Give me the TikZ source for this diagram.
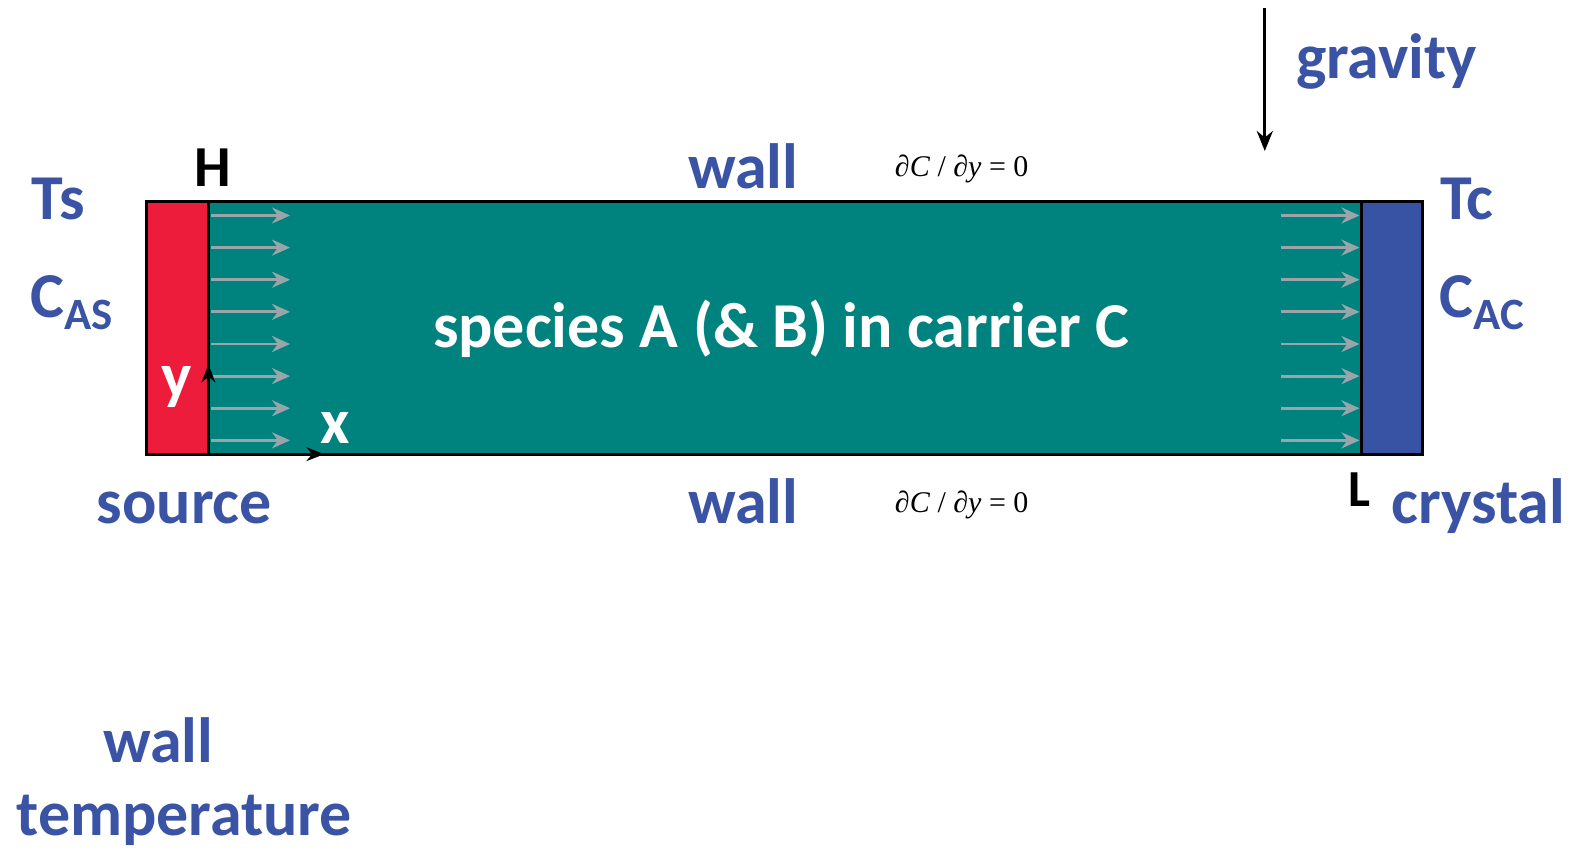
\documentclass[tikz,border=0pt]{standalone}
\usepackage{fontspec}
\setsansfont{Carlito}
\newfontfamily\eqfont{Liberation Serif}
\usetikzlibrary{arrows.meta, positioning, calc}
\definecolor{labelblue}{RGB}{58,83,164}
\definecolor{cavity}{RGB}{0,130,127}
\definecolor{hotred}{RGB}{237,28,58}
\definecolor{coldblue}{RGB}{57,83,164}
\definecolor{flowgray}{RGB}{154,165,170}

\begin{document}
\begin{tikzpicture}[x=0.5036pt, y=-0.5036pt,
    lbl/.style={anchor=base, text=labelblue, font=\sffamily\bfseries\fontsize{32}{36}\selectfont},
    edgelbl/.style={anchor=base, text=black, font=\sffamily\bfseries\fontsize{29}{34}\selectfont},
    axislbl/.style={anchor=base, text=white, font=\sffamily\bfseries\fontsize{32}{36}\selectfont},
    bc/.style={anchor=base, font=\eqfont\fontsize{15}{18}\selectfont},
    flow/.style={flowgray, line width=1.4pt, -{Stealth[length=9pt, width=8pt]}}]
  \useasboundingbox (0,0) rectangle (1568,844);
  % source, growth cavity and crystal
  \fill[hotred] (145,200) rectangle (207,451);
  \fill[cavity] (207,200) rectangle (1352,451);
  \fill[coldblue] (1352,200) rectangle (1413,451);
  \draw[line width=1.5pt] (145,200) rectangle (1413,451);
  \draw[line width=1.5pt] (207,200) -- (207,451);
  \draw[line width=1.5pt] (1352,200) -- (1352,451);
  % inflow and outflow
  \foreach \j in {0,...,7} {
      \draw[flow] (210,214+\j*31.9) -- (288,214+\j*31.9);
      \draw[flow] (1272,214+\j*31.9) -- (1350,214+\j*31.9);
  }
  % axes
  \coordinate (orig) at (207,451);
  \coordinate (yend) at (207,362);
  \coordinate (xend) at (322,451);
  \draw[line width=0.9pt, -{Stealth[length=9pt, width=7pt]}] (orig) -- (yend);
  \draw[line width=0.9pt, -{Stealth[length=9pt, width=7pt]}] (orig) -- (xend);
  \node[axislbl] (ylab) at (175,395) {y};
  \node[axislbl] (xlab) at (333,440) {x};
  \node[edgelbl] (hlab) at (211,185) {H};
  \node[edgelbl, font=\sffamily\bfseries\fontsize{26}{30}\selectfont] (llab) at (1350,503) {L};
  % texts
  \node[axislbl] (species) at (776,345) {species A (\& B) in carrier C};
  \node[lbl] (walltop) at (738,187) {wall};
  \node[lbl] (wallbot) at (738,520) {wall};
  \node[bc] (bctop) at (955,175) {∂\textit{C} / ∂\textit{y} = 0};
  \node[bc] (bcbot) at (955,509) {∂\textit{C} / ∂\textit{y} = 0};
  \node[lbl] (ts) at (58,218) {Ts};
  \node[lbl] (cas) at (72,315) {C\textsubscript{AS}};
  \node[lbl] (tc) at (1457,218) {Tc};
  \node[lbl] (cac) at (1472,315) {C\textsubscript{AC}};
  \node[lbl] (source) at (183,520) {source};
  \node[lbl] (crystal) at (1468,520) {crystal};
  \node[lbl] (wallt) at (157,757) {wall};
  \node[lbl] (temp) at (183,830) {temperature};
  % gravity
  \node[lbl] (grav) at (1377,78) {gravity};
  \coordinate (gtop) at (1256,8);
  \coordinate (gbot) at (1256,150);
  \draw[line width=1.6pt, -{Stealth[length=10pt, width=8pt]}] (gtop) -- (gbot);
\end{tikzpicture}
\end{document}
